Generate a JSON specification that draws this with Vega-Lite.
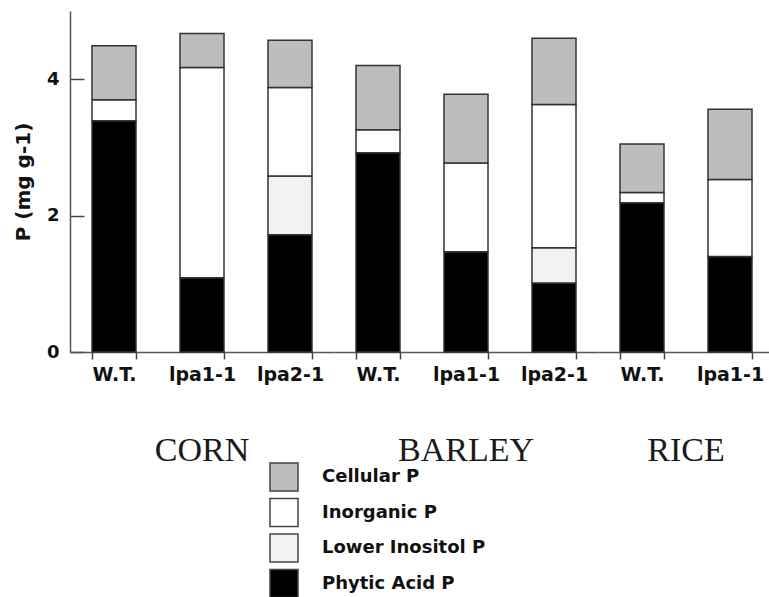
{
  "$schema": "https://vega.github.io/schema/vega-lite/v6.json",
  "padding": {"left": 13, "top": 11, "right": 0, "bottom": 0},
  "background": "white",
  "config": {"view": {"stroke": null}},
  "data": {"values": [
    {"crop": "CORN", "genotype": "W.T.", "component": "Phytic Acid P", "value": 3.39},
    {"crop": "CORN", "genotype": "W.T.", "component": "Inorganic P", "value": 0.31},
    {"crop": "CORN", "genotype": "W.T.", "component": "Cellular P", "value": 0.79},
    {"crop": "CORN", "genotype": "lpa1-1", "component": "Phytic Acid P", "value": 1.09},
    {"crop": "CORN", "genotype": "lpa1-1", "component": "Inorganic P", "value": 3.08},
    {"crop": "CORN", "genotype": "lpa1-1", "component": "Cellular P", "value": 0.5},
    {"crop": "CORN", "genotype": "lpa2-1", "component": "Phytic Acid P", "value": 1.72},
    {"crop": "CORN", "genotype": "lpa2-1", "component": "Lower Inositol P", "value": 0.86},
    {"crop": "CORN", "genotype": "lpa2-1", "component": "Inorganic P", "value": 1.3},
    {"crop": "CORN", "genotype": "lpa2-1", "component": "Cellular P", "value": 0.69},
    {"crop": "BARLEY", "genotype": "W.T.", "component": "Phytic Acid P", "value": 2.92},
    {"crop": "BARLEY", "genotype": "W.T.", "component": "Inorganic P", "value": 0.34},
    {"crop": "BARLEY", "genotype": "W.T.", "component": "Cellular P", "value": 0.94},
    {"crop": "BARLEY", "genotype": "lpa1-1", "component": "Phytic Acid P", "value": 1.47},
    {"crop": "BARLEY", "genotype": "lpa1-1", "component": "Inorganic P", "value": 1.3},
    {"crop": "BARLEY", "genotype": "lpa1-1", "component": "Cellular P", "value": 1.01},
    {"crop": "BARLEY", "genotype": "lpa2-1", "component": "Phytic Acid P", "value": 1.01},
    {"crop": "BARLEY", "genotype": "lpa2-1", "component": "Lower Inositol P", "value": 0.52},
    {"crop": "BARLEY", "genotype": "lpa2-1", "component": "Inorganic P", "value": 2.1},
    {"crop": "BARLEY", "genotype": "lpa2-1", "component": "Cellular P", "value": 0.97},
    {"crop": "RICE", "genotype": "W.T.", "component": "Phytic Acid P", "value": 2.19},
    {"crop": "RICE", "genotype": "W.T.", "component": "Inorganic P", "value": 0.15},
    {"crop": "RICE", "genotype": "W.T.", "component": "Cellular P", "value": 0.71},
    {"crop": "RICE", "genotype": "lpa1-1", "component": "Phytic Acid P", "value": 1.4},
    {"crop": "RICE", "genotype": "lpa1-1", "component": "Inorganic P", "value": 1.13},
    {"crop": "RICE", "genotype": "lpa1-1", "component": "Cellular P", "value": 1.03}
  ]},
  "facet": {
    "column": {
      "field": "crop", "type": "nominal", "sort": ["CORN", "BARLEY", "RICE"], "title": null,
      "header": {"labelOrient": "bottom", "labelFont": "Liberation Serif", "labelFontSize": 34, "labelColor": "#1a1a1a", "labelPadding": 50}
    }
  },
  "spacing": 0,
  "resolve": {"scale": {"x": "independent"}},
  "spec": {
    "width": {"step": 88},
    "height": 341,
    "mark": {"type": "bar", "stroke": "#333", "strokeWidth": 1.5},
    "encoding": {
      "x": {
        "field": "genotype", "type": "nominal", "sort": ["W.T.", "lpa1-1", "lpa2-1"],
        "scale": {"paddingInner": 0.5, "paddingOuter": 0.25},
        "axis": {"title": null, "labelAngle": 0, "tickBand": "extent", "tickSize": 7, "tickColor": "#444", "tickWidth": 1.5,
                 "domainColor": "#555", "domainWidth": 1.5, "labelFont": "DejaVu Sans", "labelFontWeight": "bold", "labelFontSize": 19,
                 "labelColor": "#111", "labelPadding": 6}
      },
      "y": {
        "field": "value", "type": "quantitative", "stack": "zero",
        "scale": {"domain": [0, 5], "nice": false},
        "axis": {"title": "P (mg g-1)", "values": [0, 2, 4], "tickSize": -14, "tickColor": "#444", "tickWidth": 1.5,
                 "domainColor": "#555", "domainWidth": 1.5, "grid": false, "labelFont": "DejaVu Sans", "labelFontWeight": "bold",
                 "labelFontSize": 18, "labelColor": "#111", "labelPadding": 25, "titleFont": "DejaVu Sans", "titleFontWeight": "bold",
                 "titleFontSize": 20, "titleColor": "#111", "titlePadding": 13}
      },
      "color": {
        "field": "component", "type": "nominal",
        "scale": {"domain": ["Cellular P", "Inorganic P", "Lower Inositol P", "Phytic Acid P"],
                  "range": ["#bdbdbd", "#ffffff", "#f2f2f2", "#000000"]},
        "legend": {"title": null, "orient": "none", "legendX": 199, "legendY": 451, "symbolType": "square", "symbolSize": 784,
                   "symbolStrokeColor": "#444", "symbolStrokeWidth": 1.5, "symbolOpacity": 1, "labelFont": "DejaVu Sans", "labelFontWeight": "bold",
                   "labelFontSize": 18, "labelColor": "#111", "labelOffset": 23, "labelLimit": 400, "rowPadding": 1.5, "padding": 0}
      },
      "order": {"field": "component", "sort": "descending"}
    }
  }
}
